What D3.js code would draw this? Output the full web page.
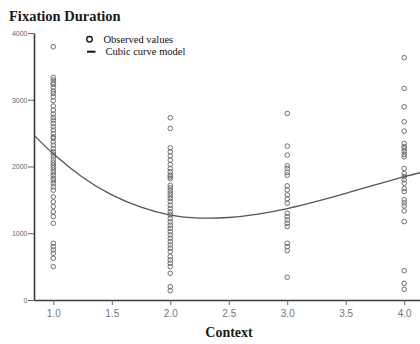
<!DOCTYPE html>
<html>
<head>
<meta charset="utf-8">
<script src="https://cdn.jsdelivr.net/npm/d3@7"></script>
<style>
  html, body { margin: 0; padding: 0; background: #fff; }
  svg { display: block; }
</style>
</head>
<body>
<svg id="chart" width="420" height="344"></svg>
<script>
// ---- data ----
const categories = [1, 2, 3, 4];
const context1 = [3795, 3335, 3295, 3255, 3230, 3185, 3130, 3095, 3045, 2985, 2905, 2845, 2785, 2735, 2695, 2645, 2595, 2545, 2495, 2445, 2420, 2370, 2320, 2270, 2220, 2185, 2145, 2095, 2055, 2020, 1985, 1945, 1905, 1865, 1820, 1785, 1745, 1695, 1645, 1545, 1470, 1400, 1320, 1250, 1150, 850, 800, 750, 700, 625, 500];
const context2 = [2730, 2570, 2280, 2220, 2160, 2095, 2030, 1970, 1920, 1870, 1845, 1820, 1720, 1680, 1640, 1600, 1560, 1520, 1475, 1420, 1370, 1320, 1275, 1220, 1170, 1120, 1075, 1025, 975, 925, 875, 825, 775, 725, 650, 600, 550, 500, 400, 200, 140];
const context3 = [2795, 2305, 2170, 2010, 1970, 1910, 1870, 1710, 1650, 1575, 1515, 1450, 1300, 1250, 1200, 1150, 1100, 850, 800, 740, 340];
const context4 = [3630, 3170, 2895, 2670, 2530, 2345, 2300, 2265, 2225, 2180, 2145, 1970, 1895, 1850, 1800, 1750, 1670, 1625, 1500, 1455, 1410, 1335, 1175, 440, 250, 160];
const observed = [context1, context2, context3, context4];

// cubic curve model
const curveX = [0.835, 1.0, 1.25, 1.5, 1.75, 2.0, 2.25, 2.5, 2.75, 3.0, 3.25, 3.5, 3.75, 4.0, 4.135];
const curveY = [2470, 2190, 1840, 1575, 1390, 1272, 1228, 1236, 1287, 1370, 1477, 1598, 1725, 1847, 1907];

const xTicks = [1.0, 1.5, 2.0, 2.5, 3.0, 3.5, 4.0];
const yTicks = [0, 1000, 2000, 3000, 4000];
const titleText = "Fixation Duration";
const xTitleText = "Context";
const legendLabels = ["Observed values", "Cubic curve model"];

// ---- drawing ----
const svg = d3.select("#chart");
const x = d3.scaleLinear().domain([0.835, 4.135]).range([34, 420]);
const y = d3.scaleLinear().domain([0, 4000]).range([300, 33]);

// title
svg.append("text")
  .attr("x", 9).attr("y", 21)
  .attr("font-family", "'Liberation Serif', 'Times New Roman', serif")
  .attr("font-weight", "bold").attr("font-size", 14.5)
  .attr("fill", "#1a1a1a")
  .text(titleText);

// y axis
const yAxis = svg.append("g")
  .attr("transform", `translate(${x.range()[0]},0)`)
  .call(d3.axisLeft(y).tickValues(yTicks).tickFormat(d3.format("d")).tickSize(6).tickSizeOuter(0).tickPadding(0.5));
yAxis.select(".domain").attr("stroke", "#3a3a3a").attr("stroke-width", 1.6);
yAxis.selectAll(".tick line").attr("stroke", "#666").attr("stroke-width", 1);
yAxis.selectAll(".tick text")
  .attr("font-family", "'Liberation Sans', Arial, sans-serif")
  .attr("font-size", 7).attr("fill", "#666");

// x axis
const xAxis = svg.append("g")
  .attr("transform", `translate(0,${y(0)})`)
  .call(d3.axisBottom(x).tickValues(xTicks).tickFormat(d3.format(".1f")).tickSize(5).tickSizeOuter(0).tickPadding(4.5));
xAxis.select(".domain").attr("stroke", "#3a3a3a").attr("stroke-width", 1.6);
xAxis.selectAll(".tick line").attr("stroke", "#666").attr("stroke-width", 1);
xAxis.selectAll(".tick text")
  .attr("font-family", "'Liberation Sans', Arial, sans-serif")
  .attr("font-size", 10).attr("fill", "#777");

// x title
svg.append("text")
  .attr("x", 229).attr("y", 337)
  .attr("text-anchor", "middle")
  .attr("font-family", "'Liberation Serif', 'Times New Roman', serif")
  .attr("font-weight", "bold").attr("font-size", 14)
  .attr("fill", "#1a1a1a")
  .text(xTitleText);

// observed points
const pts = [];
observed.forEach((vals, i) => vals.forEach(v => pts.push({ c: categories[i], v })));
svg.append("g").selectAll("circle")
  .data(pts).join("circle")
  .attr("cx", d => x(d.c)).attr("cy", d => y(d.v))
  .attr("r", 2.3)
  .attr("fill", "none").attr("stroke", "#6e6e6e").attr("stroke-width", 1);

// cubic model line
const line = d3.line()
  .x((d, i) => x(curveX[i])).y(d => y(d))
  .curve(d3.curveNatural);
svg.append("path")
  .datum(curveY)
  .attr("d", line)
  .attr("fill", "none").attr("stroke", "#555").attr("stroke-width", 1.3);

// legend
const lg = svg.append("g")
  .attr("font-family", "'Liberation Serif', 'Times New Roman', serif")
  .attr("font-size", 10.5).attr("fill", "#111");
lg.append("circle").attr("cx", 89.5).attr("cy", 39.3).attr("r", 2.8)
  .attr("fill", "none").attr("stroke", "#111").attr("stroke-width", 1.3);
lg.append("text").attr("x", 103.5).attr("y", 42.6).text(legendLabels[0]);
lg.append("line").attr("x1", 87).attr("x2", 95.5).attr("y1", 51.7).attr("y2", 51.7)
  .attr("stroke", "#111").attr("stroke-width", 2);
lg.append("text").attr("x", 105.5).attr("y", 54.8).text(legendLabels[1]);
</script>
</body>
</html>
